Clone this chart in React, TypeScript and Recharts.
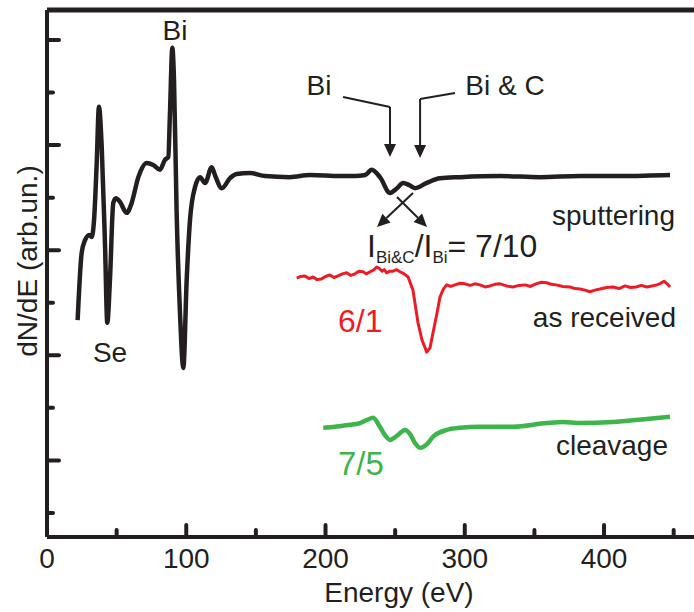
import React from "react";
import { LineChart, Line, XAxis, YAxis, ReferenceLine } from "recharts";

// energies (eV) and dN/dE values (arb. units, vertically offset per trace)
const sputterE = [22, 24.9, 27.3, 30.4, 32.1, 33.8, 35.7, 37.3, 39.3, 41.7, 43.3, 45.2, 47.6, 49.5, 52.4, 57.2, 60.8, 65.6, 71.6, 76.3, 81.1, 84.7, 87.1, 88.3, 90, 91.2, 93.1, 95.5, 97.9, 100.3, 102.7, 106.3, 109.9, 113.5, 118.3, 120.6, 125.5, 131.4, 136.2, 145.8, 156.5, 174.5, 188.9, 210.4, 221.2, 228.4, 233.2, 239.1, 246.3, 251.4, 255.7, 260, 264.3, 272.7, 282.2, 296.6, 325.3, 354, 382.8, 411.5, 433, 447.4];
const sputterI = [4.67, 5.95, 6.19, 6.29, 6.25, 6.58, 7.66, 8.73, 7.96, 6.06, 4.62, 5.43, 6.9, 6.99, 6.92, 6.71, 6.9, 7.39, 7.66, 7.62, 7.53, 7.72, 7.77, 8.61, 9.85, 9.24, 6.71, 4.81, 3.76, 5.43, 6.58, 7.2, 7.39, 7.28, 7.58, 7.43, 7.18, 7.37, 7.45, 7.47, 7.41, 7.39, 7.43, 7.41, 7.41, 7.43, 7.53, 7.39, 7.09, 7.18, 7.28, 7.24, 7.18, 7.28, 7.37, 7.39, 7.41, 7.39, 7.41, 7.41, 7.42, 7.43];

const receivedE = [179.3, 182.2, 185.3, 188.1, 191, 193.9, 196.8, 200, 203.2, 206.1, 209, 212.1, 215.2, 218.2, 221.2, 224, 226.9, 229.4, 232, 234.4, 236.8, 238.7, 240.6, 242.2, 243.9, 246.2, 248.5, 251, 253.5, 256.4, 259.3, 262.8, 266.4, 269.3, 272.7, 275, 277.2, 280.1, 282.2, 284.6, 287, 290, 293, 296.6, 300.2, 303.8, 307.3, 310.9, 314.5, 318.1, 321.7, 325.3, 330, 334.6, 339, 343.3, 347.2, 351.1, 355, 358.9, 362.2, 365.5, 370.5, 375.6, 379.2, 382.8, 386.3, 389.9, 393.5, 397.1, 401.8, 406.5, 410.8, 415.1, 419, 423, 426.8, 430.7, 434.4, 438.1, 440.6, 443.1, 445.3, 447.4];
const receivedI = [5.47, 5.5, 5.51, 5.46, 5.49, 5.44, 5.45, 5.5, 5.53, 5.48, 5.51, 5.55, 5.57, 5.52, 5.55, 5.6, 5.59, 5.55, 5.59, 5.62, 5.68, 5.65, 5.6, 5.63, 5.57, 5.6, 5.6, 5.63, 5.59, 5.55, 5.49, 5.24, 4.62, 4.29, 4.06, 4.14, 4.43, 4.81, 5.11, 5.26, 5.34, 5.31, 5.34, 5.37, 5.36, 5.33, 5.36, 5.34, 5.3, 5.32, 5.35, 5.36, 5.32, 5.3, 5.33, 5.34, 5.31, 5.36, 5.39, 5.38, 5.35, 5.34, 5.31, 5.3, 5.27, 5.26, 5.24, 5.21, 5.24, 5.26, 5.29, 5.3, 5.27, 5.32, 5.29, 5.3, 5.33, 5.3, 5.32, 5.34, 5.37, 5.41, 5.36, 5.3];

const cleavageE = [198.4, 206.8, 215.2, 224.8, 229.8, 234.1, 239.1, 242.7, 246.3, 251.4, 257.1, 260.7, 264.3, 267.9, 272.9, 277.2, 287, 296.6, 310.9, 334.6, 358.9, 370.5, 382.8, 406.5, 430.7, 447.4];
const cleavageI = [2.62, 2.64, 2.67, 2.71, 2.77, 2.81, 2.64, 2.48, 2.39, 2.47, 2.58, 2.5, 2.33, 2.24, 2.31, 2.45, 2.58, 2.62, 2.64, 2.64, 2.71, 2.73, 2.71, 2.73, 2.79, 2.83];

const xTicks = [0, 50, 100, 150, 200, 250, 300, 350, 400, 450];
const yTicks = [1, 2, 3, 4, 5, 6, 7, 8, 9, 10];

const toPoints = (e: number[], v: number[]) => e.map((x, i) => ({ e: x, v: v[i] }));
const sputtering = toPoints(sputterE, sputterI);
const asReceived = toPoints(receivedE, receivedI);
const cleavage = toPoints(cleavageE, cleavageI);

const INK = "#231f20";
const FONT = '"Liberation Sans", Arial, sans-serif';

const XTick = (props: any) => {
  const { x, y, payload } = props;
  const major = payload.value % 100 === 0;
  return (
    <g>
      {payload.value !== 0 && (
        <line x1={x} y1={y} x2={x} y2={y - (major ? 12 : 7)} stroke={INK} strokeWidth={4} strokeLinecap="round" />
      )}
      {major && (
        <text x={x} y={y + 31} textAnchor="middle" fontSize={28} fontFamily={FONT} fill={INK}>
          {payload.value}
        </text>
      )}
    </g>
  );
};

const YTick = (props: any) => {
  const { x, y, payload } = props;
  const major = payload.value % 2 === 0;
  return <line x1={x} y1={y} x2={x + (major ? 12 : 6)} y2={y} stroke={INK} strokeWidth={4} strokeLinecap="round" />;
};

const arrow = (p: any) => {
  const { x1, y1, x2, y2 } = p;
  const a = Math.atan2(y2 - y1, x2 - x1);
  const len = 13;
  const w = 6;
  const bx = x2 - len * Math.cos(a);
  const by = y2 - len * Math.sin(a);
  const px = -Math.sin(a) * w;
  const py = Math.cos(a) * w;
  return (
    <g>
      <line x1={x1} y1={y1} x2={bx} y2={by} stroke={INK} strokeWidth={2} />
      <polygon points={`${x2},${y2} ${bx + px},${by + py} ${bx - px},${by - py}`} fill={INK} />
    </g>
  );
};

const txt = { fontFamily: FONT, fill: INK, fontSize: 28 };

export default function App() {
  return (
    <div style={{ position: "absolute", left: 0, top: 0, width: 694, height: 612, background: "#fff" }}>
      <LineChart width={694} height={612} margin={{ top: 10, right: 0, left: 0, bottom: 0 }}>
        <XAxis
          dataKey="e"
          type="number"
          domain={[0, 464.6]}
          ticks={xTicks}
          height={75}
          tickSize={0}
          tickMargin={0}
          tickLine={false}
          tick={<XTick />}
          axisLine={{ stroke: INK, strokeWidth: 4 }}
          allowDataOverflow
        />
        <YAxis
          type="number"
          domain={[0.543, 10.57]}
          ticks={yTicks}
          width={47}
          tickSize={0}
          tickMargin={0}
          tickLine={false}
          tick={<YTick />}
          axisLine={{ stroke: INK, strokeWidth: 4 }}
          allowDataOverflow
        />
        <ReferenceLine y={10.57} stroke={INK} strokeWidth={5} />
        <Line data={sputtering} dataKey="v" type="monotone" stroke={INK} strokeWidth={4.5} dot={false} isAnimationActive={false} />
        <Line data={asReceived} dataKey="v" type="linear" stroke="#ed1c24" strokeWidth={3} strokeLinejoin="round" dot={false} isAnimationActive={false} />
        <Line data={cleavage} dataKey="v" type="monotone" stroke="#3db54a" strokeWidth={4.5} dot={false} isAnimationActive={false} />
        <ReferenceLine segment={[{ x: 212.6, y: 8.915 }, { x: 246.3, y: 8.725 }]} stroke={INK} strokeWidth={2} />
        <ReferenceLine segment={[{ x: 246.3, y: 8.725 }, { x: 246.3, y: 7.773 }]} shape={arrow} />
        <ReferenceLine segment={[{ x: 293, y: 8.99 }, { x: 267.9, y: 8.877 }]} stroke={INK} strokeWidth={2} />
        <ReferenceLine segment={[{ x: 267.9, y: 8.877 }, { x: 267.9, y: 7.754 }]} shape={arrow} />
        <ReferenceLine segment={[{ x: 262.8, y: 7.088 }, { x: 237, y: 6.441 }]} shape={arrow} />
        <ReferenceLine segment={[{ x: 251.3, y: 7.012 }, { x: 272.9, y: 6.441 }]} shape={arrow} />
      </LineChart>
      <svg width={694} height={612} style={{ position: "absolute", left: 0, top: 0, pointerEvents: "none" }}>
        <text x={175} y={40} textAnchor="middle" {...txt}>Bi</text>
        <text x={110} y={362} textAnchor="middle" {...txt}>Se</text>
        <text x={319} y={95} textAnchor="middle" {...txt}>Bi</text>
        <text x={505} y={95} textAnchor="middle" {...txt}>Bi &amp; C</text>
        <text x={675} y={225} textAnchor="end" {...txt}>sputtering</text>
        <text x={367} y={257} fontFamily={FONT} fill={INK} fontSize={32}>
          I<tspan fontSize={17} dy={6}>Bi&amp;C</tspan>
          <tspan dy={-6}>/I</tspan>
          <tspan fontSize={17} dy={6}>Bi</tspan>
          <tspan dy={-6}>= 7/10</tspan>
        </text>
        <text x={338} y={332} fontFamily={FONT} fill="#ed1c24" fontSize={32}>6/1</text>
        <text x={676} y={327} textAnchor="end" {...txt}>as received</text>
        <text x={338} y={475} fontFamily={FONT} fill="#3db54a" fontSize={33}>7/5</text>
        <text x={668} y={455} textAnchor="end" {...txt}>cleavage</text>
        <text x={399} y={602} textAnchor="middle" {...txt}>Energy (eV)</text>
        <text x={0} y={0} transform="translate(30,261) rotate(-90)" textAnchor="middle" dominantBaseline="middle" {...txt}>
          dN/dE (arb.un.)
        </text>
      </svg>
    </div>
  );
}
